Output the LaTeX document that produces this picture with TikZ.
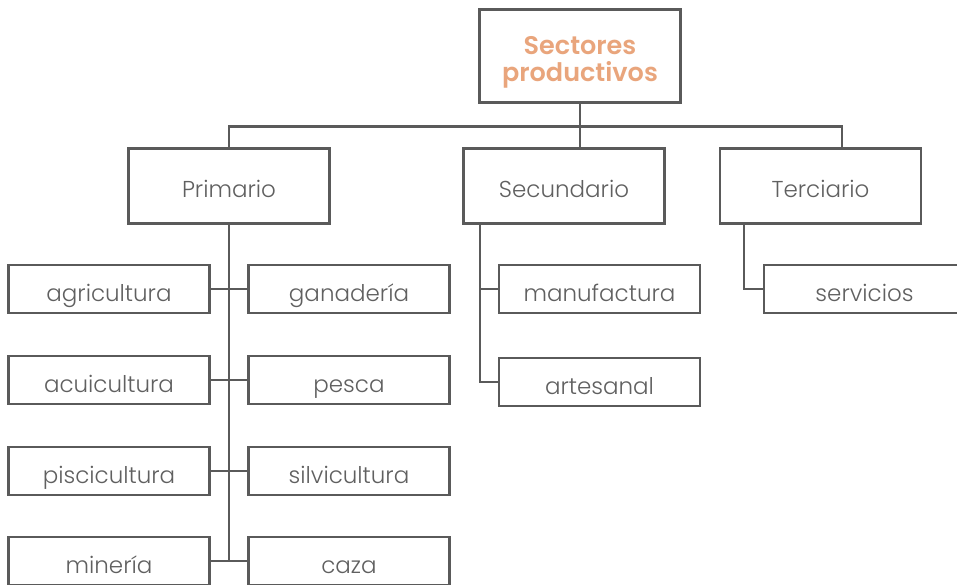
\documentclass[tikz,border=0pt]{standalone}
\usepackage{fontspec}
\setmainfont{Poppins Light}
\newfontfamily\titlefont{Poppins SemiBold}
\begin{document}
\begin{tikzpicture}[x=1pt,y=-1pt,
  box/.style={draw=linegray,line width=2.8pt,minimum width=201pt,minimum height=48pt,inner sep=0pt,text=textgray,font=\fontsize{23}{26}\selectfont,text height=25pt,text depth=0pt},
  secbox/.style={box,minimum height=75pt,text height=23pt},
  conn/.style={draw=linegray,line width=2.8pt}]
\definecolor{linegray}{HTML}{5A5A5A}
\definecolor{textgray}{HTML}{606060}
\definecolor{orangetxt}{HTML}{E9A57C}
\clip (0,0) rectangle (957,584);
\fill[white] (0,0) rectangle (957,584);
% title
\node[draw=linegray,line width=2.8pt,minimum width=201pt,minimum height=93pt,inner sep=0pt,text=orangetxt,font=\titlefont\fontsize{25.5}{26}\selectfont] (top) at (580,56) {\raisebox{-13pt}[0pt][0pt]{\begin{tabular}{@{}c@{}}Sectores\\productivos\end{tabular}}};
% sectors
\node[secbox] (prim) at (229,186) {Primario};
\node[secbox] (sec) at (564,186) {Secundario};
\node[secbox] (ter) at (820.5,186) {Terciario};
% primary children
\node[box] (agri) at (109,289) {agricultura};
\node[box] (gan) at (349,289) {ganadería};
\node[box] (acui) at (109,380) {acuicultura};
\node[box] (pes) at (349,380) {pesca};
\node[box] (pisc) at (109,471) {piscicultura};
\node[box] (silv) at (349,471) {silvicultura};
\node[box] (min) at (109,561) {minería};
\node[box] (caz) at (349,561) {caza};
% secondary children
\node[box] (manu) at (599.5,289) {manufactura};
\node[box] (art) at (599.5,382) {artesanal};
% tertiary child
\node[box] (serv) at (864.5,289) {servicios};
% connectors
\coordinate (tj) at (842,149);
\draw[conn] (top.south) -- (top.south |- sec.north);
\draw[conn] (prim.north) -- ++(0,-21) -| (tj);
\draw[conn] (prim.south) -- (prim.south |- min.east);
\draw[conn] (agri.east) -- (gan.west);
\draw[conn] (acui.east) -- (pes.west);
\draw[conn] (pisc.east) -- (silv.west);
\draw[conn] (min.east) -- (caz.west);
\coordinate (sj) at (480,224);
\draw[conn] (sj) |- (art.west);
\draw[conn] (sj |- manu.west) -- (manu.west);
\coordinate (tj2) at (744,224);
\draw[conn] (tj2) |- (serv.west);
\end{tikzpicture}
\end{document}
